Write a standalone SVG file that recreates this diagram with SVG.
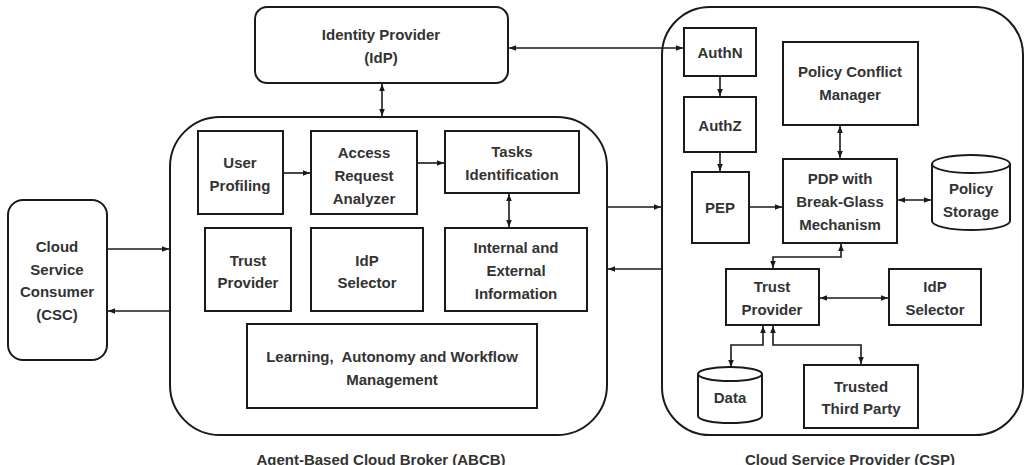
<svg xmlns="http://www.w3.org/2000/svg" width="1028" height="465" viewBox="0 0 1028 465">
  <style>
    .box { fill: #fff; stroke: #1a1a1a; stroke-width: 2; }
    .frame { fill: none; stroke: #1a1a1a; stroke-width: 2; }
    .lbl { font-family: "Liberation Sans", Arial, sans-serif; font-weight: bold; font-size: 15px; fill: #333; text-anchor: middle; }
    .edge { fill: none; stroke: #1a1a1a; stroke-width: 1.6; }
  </style>
  <defs>
    <marker id="arr" viewBox="0 0 10 10" refX="10" refY="5" markerWidth="7" markerHeight="7" markerUnits="userSpaceOnUse" orient="auto-start-reverse">
      <path d="M0,1 L10,5 L0,9 Z" fill="#1a1a1a"/>
    </marker>
  </defs>

  <rect width="1028" height="465" fill="#fff"/>

  <!-- Containers -->
  <g id="abcb">
    <rect class="frame" x="170" y="117" width="437" height="318" rx="50" ry="50"/>
    <text class="lbl" x="381" y="465">Agent-Based Cloud Broker (ABCB)</text>
  </g>
  <g id="csp">
    <rect class="frame" x="662" y="7" width="361" height="428" rx="48" ry="48"/>
    <text class="lbl" x="850" y="465">Cloud Service Provider (CSP)</text>
  </g>

  <!-- Outside nodes -->
  <g id="idp">
    <rect class="box" x="255" y="7" width="253" height="76" rx="12" ry="12"/>
    <text class="lbl" x="381" y="40">Identity Provider</text>
    <text class="lbl" x="381" y="63">(IdP)</text>
  </g>
  <g id="csc">
    <rect class="box" x="8" y="200" width="99" height="160" rx="15" ry="15"/>
    <text class="lbl" x="57" y="252">Cloud</text>
    <text class="lbl" x="57" y="275">Service</text>
    <text class="lbl" x="57" y="297">Consumer</text>
    <text class="lbl" x="57" y="320">(CSC)</text>
  </g>

  <!-- Broker internals -->
  <g id="user-profiling">
    <rect class="box" x="198" y="131" width="85" height="83"/>
    <text class="lbl" x="240" y="168">User</text>
    <text class="lbl" x="240" y="191">Profiling</text>
  </g>
  <g id="access-request-analyzer">
    <rect class="box" x="311" y="131" width="106" height="83"/>
    <text class="lbl" x="364" y="158">Access</text>
    <text class="lbl" x="364" y="181">Request</text>
    <text class="lbl" x="364" y="204">Analyzer</text>
  </g>
  <g id="tasks-identification">
    <rect class="box" x="445" y="131" width="134" height="62"/>
    <text class="lbl" x="512" y="157">Tasks</text>
    <text class="lbl" x="512" y="180">Identification</text>
  </g>
  <g id="trust-provider-broker">
    <rect class="box" x="205" y="228" width="86" height="83"/>
    <text class="lbl" x="248" y="266">Trust</text>
    <text class="lbl" x="248" y="288">Provider</text>
  </g>
  <g id="idp-selector-broker">
    <rect class="box" x="311" y="228" width="112" height="83"/>
    <text class="lbl" x="367" y="266">IdP</text>
    <text class="lbl" x="367" y="288">Selector</text>
  </g>
  <g id="internal-external-info">
    <rect class="box" x="445" y="228" width="142" height="83"/>
    <text class="lbl" x="516" y="253">Internal and</text>
    <text class="lbl" x="516" y="276">External</text>
    <text class="lbl" x="516" y="299">Information</text>
  </g>
  <g id="learning">
    <rect class="box" x="247" y="324" width="290" height="84"/>
    <text class="lbl" x="392" y="362" xml:space="preserve">Learning,  Autonomy and Workflow</text>
    <text class="lbl" x="392" y="385">Management</text>
  </g>

  <!-- Provider internals -->
  <g id="authn">
    <rect class="box" x="684" y="28" width="72" height="48"/>
    <text class="lbl" x="720" y="58">AuthN</text>
  </g>
  <g id="authz">
    <rect class="box" x="684" y="97" width="72" height="55"/>
    <text class="lbl" x="720" y="131">AuthZ</text>
  </g>
  <g id="pep">
    <rect class="box" x="692" y="172" width="57" height="71"/>
    <text class="lbl" x="720" y="213">PEP</text>
  </g>
  <g id="policy-conflict-manager">
    <rect class="box" x="783" y="42" width="135" height="83"/>
    <text class="lbl" x="850" y="77">Policy Conflict</text>
    <text class="lbl" x="850" y="100">Manager</text>
  </g>
  <g id="pdp">
    <rect class="box" x="783" y="159" width="114" height="84"/>
    <text class="lbl" x="840" y="184">PDP with</text>
    <text class="lbl" x="840" y="207">Break-Glass</text>
    <text class="lbl" x="840" y="230">Mechanism</text>
  </g>
  <g id="policy-storage">
    <path class="box" d="M932,164 A39,9 0 0,1 1010,164 L1010,221 A39,9 0 0,1 932,221 Z"/>
    <path class="frame" d="M932,164 A39,9 0 0,0 1010,164"/>
    <text class="lbl" x="971" y="194">Policy</text>
    <text class="lbl" x="971" y="217">Storage</text>
  </g>
  <g id="trust-provider-csp">
    <rect class="box" x="726" y="269" width="93" height="56"/>
    <text class="lbl" x="772" y="292">Trust</text>
    <text class="lbl" x="772" y="315">Provider</text>
  </g>
  <g id="idp-selector-csp">
    <rect class="box" x="889" y="269" width="92" height="56"/>
    <text class="lbl" x="935" y="292">IdP</text>
    <text class="lbl" x="935" y="315">Selector</text>
  </g>
  <g id="data">
    <path class="box" d="M698,374 A32,7 0 0,1 762,374 L762,416 A32,7 0 0,1 698,416 Z"/>
    <path class="frame" d="M698,374 A32,7 0 0,0 762,374"/>
    <text class="lbl" x="730" y="403">Data</text>
  </g>
  <g id="trusted-third-party">
    <rect class="box" x="804" y="365" width="114" height="63"/>
    <text class="lbl" x="861" y="392">Trusted</text>
    <text class="lbl" x="861" y="414">Third Party</text>
  </g>

  <!-- Connectors -->
  <g id="connectors">
    <line class="edge" x1="382" y1="84" x2="382" y2="116" marker-start="url(#arr)" marker-end="url(#arr)"/>
    <line class="edge" x1="509" y1="48" x2="683" y2="48" marker-start="url(#arr)" marker-end="url(#arr)"/>
    <line class="edge" x1="107" y1="249" x2="169" y2="249" marker-end="url(#arr)"/>
    <line class="edge" x1="169" y1="311" x2="108" y2="311" marker-end="url(#arr)"/>
    <line class="edge" x1="283" y1="173" x2="310" y2="173" marker-end="url(#arr)"/>
    <line class="edge" x1="417" y1="163" x2="444" y2="163" marker-end="url(#arr)"/>
    <line class="edge" x1="509" y1="194" x2="509" y2="227" marker-start="url(#arr)" marker-end="url(#arr)"/>
    <line class="edge" x1="607" y1="207" x2="661" y2="207" marker-end="url(#arr)"/>
    <line class="edge" x1="662" y1="269" x2="608" y2="269" marker-end="url(#arr)"/>
    <line class="edge" x1="720" y1="76" x2="720" y2="96" marker-end="url(#arr)"/>
    <line class="edge" x1="720" y1="152" x2="720" y2="171" marker-end="url(#arr)"/>
    <line class="edge" x1="749" y1="207" x2="782" y2="207" marker-end="url(#arr)"/>
    <line class="edge" x1="840" y1="126" x2="840" y2="158" marker-start="url(#arr)" marker-end="url(#arr)"/>
    <line class="edge" x1="898" y1="200" x2="931" y2="200" marker-start="url(#arr)" marker-end="url(#arr)"/>
    <polyline class="edge" points="841,244 841,257 773,257 773,268" marker-start="url(#arr)" marker-end="url(#arr)"/>
    <line class="edge" x1="820" y1="298" x2="888" y2="298" marker-start="url(#arr)" marker-end="url(#arr)"/>
    <polyline class="edge" points="763,326 763,345 731,345 731,367" marker-start="url(#arr)" marker-end="url(#arr)"/>
    <polyline class="edge" points="773,326 773,345 861,345 861,364" marker-start="url(#arr)" marker-end="url(#arr)"/>
  </g>
</svg>
